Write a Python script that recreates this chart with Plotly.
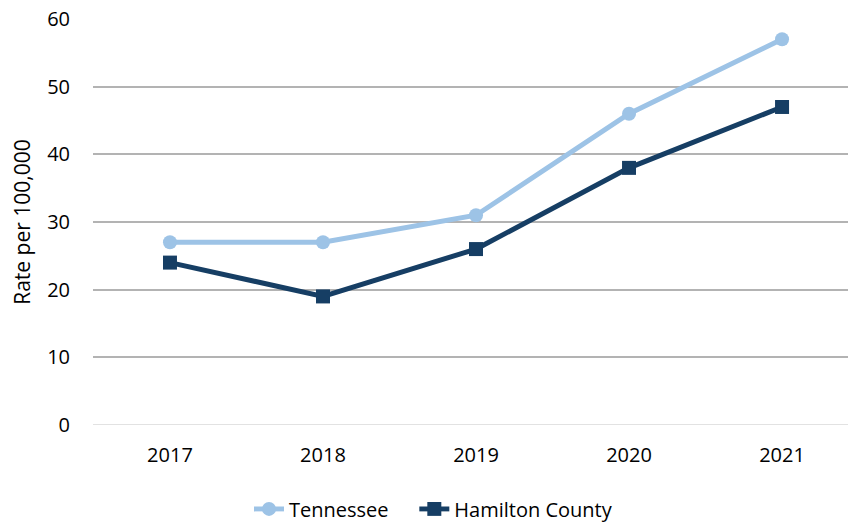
import plotly.graph_objects as go

# Rate per 100,000 by year
years = ["2017", "2018", "2019", "2020", "2021"]
tennessee = [27, 27, 31, 46, 57]
hamilton = [24, 19, 26, 38, 47]

y_ticks = [0, 10, 20, 30, 40, 50, 60]

font_family = "Open Sans"
text_color = "#000000"

fig = go.Figure()

fig.add_trace(go.Scatter(
    x=list(range(len(years))), y=tennessee, name="Tennessee    ",
    mode="lines+markers",
    line=dict(color="#9dc3e6", width=5),
    marker=dict(symbol="circle", size=14, color="#9dc3e6"),
))
fig.add_trace(go.Scatter(
    x=list(range(len(years))), y=hamilton, name="Hamilton County",
    mode="lines+markers",
    line=dict(color="#163e64", width=5),
    marker=dict(symbol="square", size=14, color="#163e64"),
))

fig.update_layout(
    width=848, height=523,
    margin=dict(l=93, r=0, t=19, b=98, autoexpand=False),
    paper_bgcolor="white", plot_bgcolor="white",
    font=dict(family=font_family, size=20, color=text_color),
    showlegend=True,
    legend=dict(orientation="h", x=0.451, xanchor="center", xref="paper",
                y=0.027, yref="container", yanchor="middle",
                font=dict(size=20), tracegroupgap=0),
    xaxis=dict(
        tickmode="array", tickvals=list(range(len(years))), ticktext=years,
        range=[-0.503, 4.431], showgrid=False, zeroline=False,
        showline=False, ticks="", ticklen=0, ticklabelstandoff=16,
        tickfont=dict(size=20),
    ),
    yaxis=dict(
        range=[0, 60], tickvals=y_ticks, showgrid=True,
        gridcolor="#b3b3b3", gridwidth=1.5, zeroline=False,
        showline=False, ticks="", ticklabelstandoff=22,
        title=dict(text="Rate per 100,000", standoff=10, font=dict(size=21)),
        tickfont=dict(size=20),
    ),
)

# light baseline at zero
fig.add_shape(type="line", xref="paper", yref="y", x0=0, x1=1, y0=0, y1=0,
              line=dict(color="#d9d9d9", width=1.5), layer="below")

fig.write_html("out.html")
